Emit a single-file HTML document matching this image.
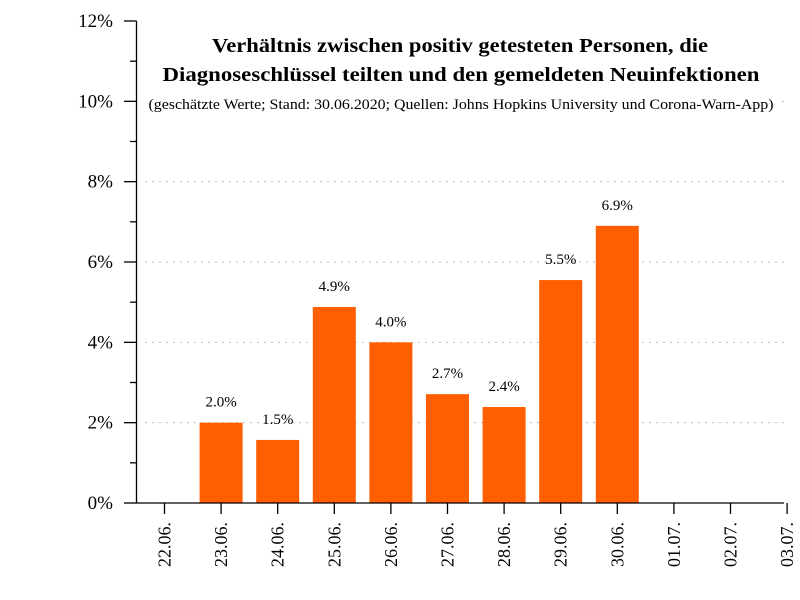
<!DOCTYPE html>
<html><head><meta charset="utf-8"><style>
body{margin:0;background:#fff}
svg{display:block;font-family:"Liberation Serif","DejaVu Serif",serif}
</style></head><body>
<svg id="chart" width="800" height="600" viewBox="0 0 800 600">
<rect x="0" y="0" width="800" height="600" fill="#fff"/>
<g id="grid"></g>
<rect x="142" y="28" width="636" height="92" fill="#fff"/>
<g id="bars"></g>
<g id="axes"></g>
<text x="460" y="52" text-anchor="middle" font-size="20" font-weight="bold" textLength="496" lengthAdjust="spacingAndGlyphs">Verhältnis zwischen positiv getesteten Personen, die</text>
<text x="461" y="81" text-anchor="middle" font-size="20" font-weight="bold" textLength="597" lengthAdjust="spacingAndGlyphs">Diagnoseschlüssel teilten und den gemeldeten Neuinfektionen</text>
<text x="461" y="109" text-anchor="middle" font-size="15" textLength="625" lengthAdjust="spacingAndGlyphs">(geschätzte Werte; Stand: 30.06.2020; Quellen: Johns Hopkins University und Corona-Warn-App)</text>
</svg>
<script>
const categories=["22.06.","23.06.","24.06.","25.06.","26.06.","27.06.","28.06.","29.06.","30.06.","01.07.","02.07.","03.07."];
const values=[null,2.0,1.57,4.88,4.0,2.71,2.39,5.55,6.9,null,null,null];
const valueLabels=["","2.0%","1.5%","4.9%","4.0%","2.7%","2.4%","5.5%","6.9%","","",""];
const yTicks=[0,2,4,6,8,10,12];
const NS="http://www.w3.org/2000/svg";
const x0=136.5,x1=784,y0=503,y1=21,yMax=12;
const yS=v=>y0-(v/yMax)*(y0-y1);
const xS=i=>164.5+i*56.6;
function mk(t,a,p){const e=document.createElementNS(NS,t);for(const k in a)e.setAttribute(k,a[k]);p.appendChild(e);return e;}
const grid=document.getElementById('grid'),bars=document.getElementById('bars'),axes=document.getElementById('axes');
yTicks.forEach(v=>{
  if(v>0&&v<12){const g=mk('line',{x1:145,x2:x1,y1:yS(v),y2:yS(v),stroke:'#bbb','stroke-dasharray':'2,5','stroke-width':1},grid);
  
  }
  const t=mk('line',{x1:124,x2:x0,y1:yS(v),y2:yS(v),stroke:'#000','stroke-width':1.3},axes);
  
  
  const l=mk('text',{x:113,y:yS(v)+6,'text-anchor':'end','font-size':19},axes);
  l.textContent=v+'%';
  
  
  if(v<12){const m=mk('line',{x1:130,x2:x0,y1:yS(v+1),y2:yS(v+1),stroke:'#000','stroke-width':1.3},axes);
  
  }
});
categories.forEach((c,i)=>{
  const cx=xS(i);
  const v=values[i];
  if(v!=null){
    const r=mk('rect',{x:cx-21.5,y:yS(v),width:43,height:y0-yS(v),fill:'#ff5f00'},bars);
    
    
    const tl=mk('text',{x:cx,y:yS(v)-16,'text-anchor':'middle','font-size':15},bars);
    tl.textContent=valueLabels[i];
    
    
  }
  const t=mk('line',{x1:cx,x2:cx,y1:y0,y2:514,stroke:'#000','stroke-width':1.3},axes);
  
  
  const l=mk('text',{x:0,y:0,'text-anchor':'end','font-size':18,transform:`translate(${cx+6},522) rotate(-90)`},axes);
  l.textContent=c;
  
  
});
const ax=mk('path',{d:`M${x0},${y1} V${y0} H${x1}`,fill:'none',stroke:'#000','stroke-width':1.3},axes);


</script>
</body></html>
